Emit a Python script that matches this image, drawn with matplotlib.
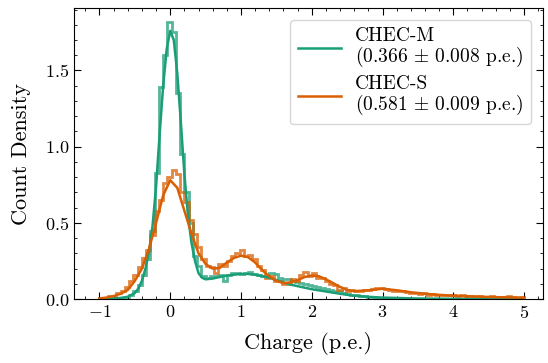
import numpy as np
import matplotlib
matplotlib.use("Agg")
import matplotlib.pyplot as plt
from matplotlib.ticker import MultipleLocator

plt.rcParams["font.family"] = "serif"
plt.rcParams["font.serif"] = ["cmr10"]
plt.rcParams["mathtext.fontset"] = "cm"
plt.rcParams["axes.formatter.use_mathtext"] = True

# histogram bins (100 bins, -1 to 5 p.e.)
edges = np.linspace(-1, 5, 101)

chec_m_hist = [
    0.0, 0.0, 0.0, 0.003, 0.005, 0.01, 0.015, 0.03, 0.05, 0.09,
    0.16, 0.26, 0.45, 0.83, 1.39, 1.60, 1.82, 1.75, 1.35, 0.95,
    0.70, 0.50, 0.28, 0.22, 0.15, 0.14, 0.15, 0.15, 0.16, 0.12,
    0.16, 0.17, 0.17, 0.165, 0.17, 0.175, 0.165, 0.16, 0.15, 0.15,
    0.17, 0.165, 0.14, 0.13, 0.13, 0.12, 0.11, 0.105, 0.10, 0.09,
    0.085, 0.08, 0.07, 0.065, 0.06, 0.055, 0.05, 0.04, 0.035, 0.03,
    0.025, 0.022, 0.02, 0.015, 0.012, 0.01, 0.01, 0.008, 0.006, 0.006,
    0.005, 0.005, 0.004, 0.004, 0.003, 0.003, 0.003, 0.002, 0.002, 0.002,
    0.002, 0.002, 0.001, 0.001, 0.001, 0.001, 0.001, 0.001, 0.001, 0.001,
    0.001, 0.0, 0.0, 0.0, 0.0, 0.0, 0.0, 0.0, 0.0, 0.0,
]
chec_s_hist = [
    0.01, 0.01, 0.02, 0.02, 0.04, 0.05, 0.08, 0.12, 0.16, 0.21,
    0.27, 0.32, 0.42, 0.58, 0.65, 0.76, 0.80, 0.85, 0.82, 0.70,
    0.64, 0.52, 0.43, 0.34, 0.26, 0.22, 0.21, 0.17, 0.23, 0.22,
    0.25, 0.28, 0.30, 0.32, 0.28, 0.29, 0.26, 0.22, 0.19, 0.14,
    0.15, 0.12, 0.12, 0.10, 0.10, 0.13, 0.12, 0.16, 0.18, 0.15,
    0.17, 0.14, 0.14, 0.12, 0.10, 0.09, 0.06, 0.07, 0.055, 0.06,
    0.05, 0.055, 0.06, 0.06, 0.065, 0.07, 0.075, 0.065, 0.06, 0.055,
    0.05, 0.05, 0.045, 0.04, 0.04, 0.035, 0.04, 0.03, 0.035, 0.03,
    0.03, 0.025, 0.03, 0.025, 0.02, 0.025, 0.02, 0.02, 0.015, 0.02,
    0.015, 0.015, 0.02, 0.015, 0.01, 0.015, 0.02, 0.015, 0.01, 0.015,
]

# fitted spectra
chec_m_fit_x = [-1.0, -0.8, -0.7, -0.6, -0.5, -0.45, -0.4, -0.35, -0.3, -0.25,
                -0.2, -0.15, -0.1, -0.05, 0.0, 0.05, 0.1, 0.15, 0.2, 0.25,
                0.3, 0.35, 0.4, 0.45, 0.5, 0.6, 0.7, 0.8, 0.9, 1.0,
                1.1, 1.2, 1.3, 1.4, 1.5, 1.6, 1.7, 1.8, 1.9, 2.0,
                2.2, 2.4, 2.6, 2.8, 3.0, 3.5, 4.0, 5.0]
chec_m_fit_y = [0.0, 0.003, 0.008, 0.015, 0.04, 0.07, 0.12, 0.2, 0.31, 0.48,
                0.74, 1.08, 1.40, 1.64, 1.76, 1.70, 1.48, 1.16, 0.82, 0.55,
                0.37, 0.25, 0.17, 0.14, 0.13, 0.135, 0.145, 0.155, 0.16, 0.165,
                0.165, 0.16, 0.15, 0.14, 0.125, 0.11, 0.095, 0.085, 0.075, 0.065,
                0.05, 0.035, 0.022, 0.015, 0.01, 0.004, 0.002, 0.0]

chec_s_fit_x = [-1.0, -0.9, -0.8, -0.7, -0.6, -0.5, -0.4, -0.3, -0.2, -0.1,
                0.0, 0.1, 0.2, 0.3, 0.4, 0.5, 0.6, 0.7, 0.8, 0.9,
                1.0, 1.1, 1.2, 1.3, 1.4, 1.5, 1.6, 1.7, 1.8, 1.9,
                2.0, 2.1, 2.2, 2.3, 2.4, 2.5, 2.6, 2.8, 3.0, 3.2,
                3.4, 3.6, 3.8, 4.0, 4.5, 5.0]
chec_s_fit_y = [0.005, 0.01, 0.02, 0.035, 0.06, 0.12, 0.2, 0.33, 0.5, 0.68,
                0.78, 0.73, 0.58, 0.43, 0.30, 0.23, 0.20, 0.205, 0.24, 0.27,
                0.285, 0.275, 0.24, 0.19, 0.15, 0.12, 0.105, 0.11, 0.125, 0.145,
                0.155, 0.15, 0.13, 0.105, 0.08, 0.06, 0.052, 0.058, 0.068, 0.058,
                0.045, 0.035, 0.028, 0.022, 0.014, 0.009]

labels = ["CHEC-M\n(0.366 $\\pm$ 0.008 p.e.)",
          "CHEC-S\n(0.581 $\\pm$ 0.009 p.e.)"]
colors = ["#1b9e77", "#d95f02"]

fig = plt.figure(figsize=(5.48, 3.63), dpi=100)
ax = fig.add_axes([0.135, 0.176, 0.855, 0.802])

ax.stairs(chec_m_hist, edges, color=colors[0], lw=2, alpha=0.75)
ax.plot(chec_m_fit_x, chec_m_fit_y, color=colors[0], lw=1.8, label=labels[0])
ax.stairs(chec_s_hist, edges, color=colors[1], lw=2, alpha=0.75)
ax.plot(chec_s_fit_x, chec_s_fit_y, color=colors[1], lw=1.8, label=labels[1])

ax.set_xlim(-1.36, 5.26)
ax.set_ylim(0, 1.91)
ax.xaxis.set_major_locator(MultipleLocator(1))
ax.xaxis.set_minor_locator(MultipleLocator(0.2))
ax.yaxis.set_major_locator(MultipleLocator(0.5))
ax.yaxis.set_minor_locator(MultipleLocator(0.1))
ax.tick_params(which="both", direction="in", top=True, right=True, labelsize=13)
ax.tick_params(which="major", length=5)
ax.tick_params(which="minor", length=2.5)

ax.set_xlabel("Charge (p.e.)", fontsize=16, labelpad=8)
ax.set_ylabel("Count Density", fontsize=16, labelpad=10)
leg = ax.legend(loc="upper right", fontsize=14, handlelength=2.2,
                labelspacing=0.35, borderaxespad=0.6, handletextpad=0.7)
for t in leg.get_texts():
    t.set_linespacing(0.95)

fig.savefig("out.png", dpi=100)
